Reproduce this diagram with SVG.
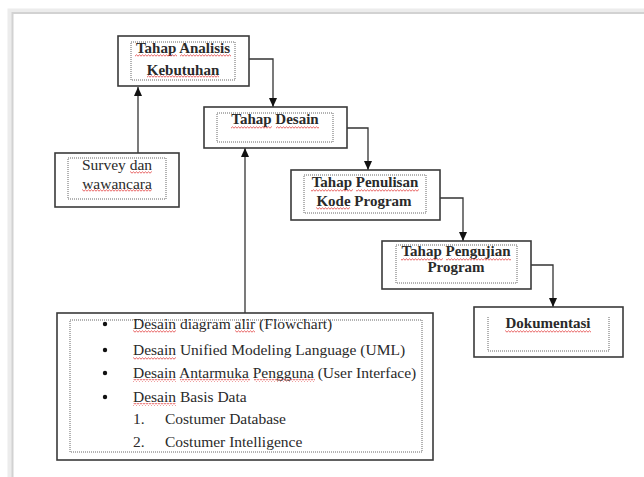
<svg xmlns="http://www.w3.org/2000/svg" width="644" height="477" viewBox="0 0 644 477">
<defs>
<style>
.page{fill:none;stroke:#d2d2d2;stroke-width:2}
.pageshadow{fill:none;stroke:#ececec;stroke-width:5}
.box{fill:#fff;stroke:#3a3a3a;stroke-width:1.6}
.inner{fill:none;stroke:#666;stroke-width:1;stroke-dasharray:1 1}
text{font-family:'Liberation Serif','DejaVu Serif',serif;fill:#2a2a2a}
.b{font-weight:bold;font-size:15px;text-anchor:middle}
.r{font-size:15.5px}
.rc{font-size:15.5px;text-anchor:middle}
.conn{fill:none;stroke:#333;stroke-width:1.3}
.sq{fill:url(#squig)}
</style>
<pattern id="squig" width="3" height="3" patternUnits="userSpaceOnUse">
<path d="M0,2.2 L1.5,0.8 L3,2.2" fill="none" stroke="#e23b3b" stroke-width="0.8"/>
</pattern>
<marker id="arr" markerWidth="10" markerHeight="10" refX="9" refY="5" orient="auto" markerUnits="userSpaceOnUse">
<path d="M0,1 L9,5 L0,9 Z" fill="#111"/>
</marker>
</defs>
<rect width="644" height="477" fill="#fff"/>
<path class="pageshadow" d="M10,477 V11 H644"/>
<path class="page" d="M12.5,477 V13 H644"/>

<g id="connectors">
<path class="conn" d="M138,153 V87" marker-end="url(#arr)"/>
<path class="conn" d="M249,59 H273 V107" marker-end="url(#arr)"/>
<path class="conn" d="M347,128 H368 V170" marker-end="url(#arr)"/>
<path class="conn" d="M440,198 H463 V241" marker-end="url(#arr)"/>
<path class="conn" d="M531,265 H553 V307" marker-end="url(#arr)"/>
<path class="conn" d="M245,313 V148" marker-end="url(#arr)"/>
</g>

<g id="node-analisis" font-family="Liberation Serif, serif">
<rect class="box" x="118" y="36" width="131" height="50"/>
<rect class="inner" x="131" y="42" width="104" height="38"/>
<text class="b" x="183" y="53">Tahap Analisis</text>
<text class="b" x="183" y="75">Kebutuhan</text>
<rect class="sq" x="135" y="54" width="42" height="3"/>
<rect class="sq" x="180" y="54" width="51" height="3"/>
<rect class="sq" x="147" y="75" width="72" height="3"/>
</g>

<g id="node-desain">
<rect class="box" x="204" y="107" width="143" height="41"/>
<rect class="inner" x="217" y="113" width="116" height="29"/>
<text class="b" x="275" y="124">Tahap Desain</text>
<rect class="sq" x="231" y="126" width="41" height="3"/>
<rect class="sq" x="276" y="126" width="43" height="3"/>
</g>

<g id="node-survey">
<rect class="box" x="55" y="153" width="124" height="54"/>
<rect class="inner" x="68" y="158" width="98" height="41"/>
<text class="rc" x="117" y="170">Survey dan</text>
<text class="rc" x="117" y="189">wawancara</text>
<rect class="sq" x="130" y="171" width="22" height="3"/>
<rect class="sq" x="82" y="189" width="70" height="3"/>
</g>

<g id="node-penulisan">
<rect class="box" x="291" y="170" width="149" height="50"/>
<rect class="inner" x="304" y="175" width="122" height="38"/>
<text class="b" x="365" y="187">Tahap Penulisan</text>
<text class="b" x="364" y="206">Kode Program</text>
<rect class="sq" x="311" y="189" width="42" height="3"/>
<rect class="sq" x="356" y="189" width="63" height="3"/>
<rect class="sq" x="316" y="207" width="34" height="3"/>
</g>

<g id="node-pengujian">
<rect class="box" x="382" y="241" width="149" height="48"/>
<rect class="inner" x="396" y="245" width="121" height="38"/>
<text class="b" x="456" y="256">Tahap Pengujian</text>
<text class="b" x="456" y="272">Program</text>
<rect class="sq" x="401" y="258" width="42" height="3"/>
<rect class="sq" x="446" y="258" width="65" height="3"/>
</g>

<g id="node-dokumentasi">
<rect class="box" x="474" y="307" width="149" height="50"/>
<path class="inner" d="M488,317 V351 H609 V317"/>
<text class="b" x="548" y="328">Dokumentasi</text>
<rect class="sq" x="505" y="330" width="86" height="3"/>
</g>

<g id="node-list">
<rect class="box" x="57" y="313" width="376" height="147"/>
<rect class="inner" x="70" y="320" width="352" height="132"/>
<g fill="#111">
<circle cx="105" cy="324" r="2.2"/>
<circle cx="105" cy="350" r="2.2"/>
<circle cx="105" cy="373" r="2.2"/>
<circle cx="105" cy="397" r="2.2"/>
</g>
<text class="r" x="133" y="329">Desain diagram alir (Flowchart)</text>
<text class="r" x="133" y="355">Desain Unified Modeling Language (UML)</text>
<text class="r" x="133" y="378">Desain Antarmuka Pengguna (User Interface)</text>
<text class="r" x="133" y="402">Desain Basis Data</text>
<text class="r" x="133" y="424">1.</text>
<text class="r" x="165" y="424">Costumer Database</text>
<text class="r" x="133" y="447">2.</text>
<text class="r" x="165" y="447">Costumer Intelligence</text>
<rect class="sq" x="133" y="330" width="43" height="3"/>
<rect class="sq" x="235" y="330" width="20" height="3"/>
<rect class="sq" x="133" y="357" width="43" height="3"/>
<rect class="sq" x="133" y="379" width="43" height="3"/>
<rect class="sq" x="180" y="379" width="70" height="3"/>
<rect class="sq" x="254" y="379" width="61" height="3"/>
<rect class="sq" x="133" y="403" width="43" height="3"/>
</g>
</svg>
